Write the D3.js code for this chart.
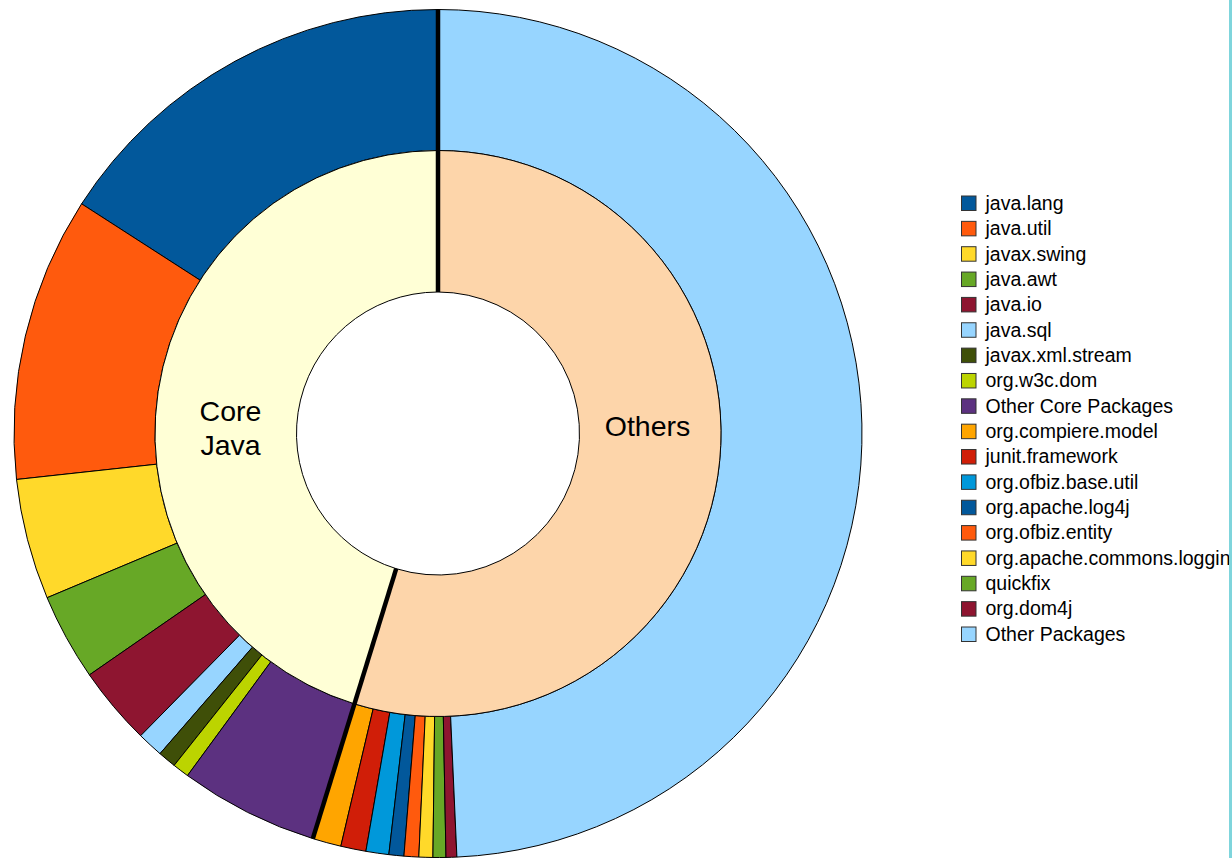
<!DOCTYPE html>
<html>
<head>
<meta charset="utf-8">
<script src="https://cdn.jsdelivr.net/npm/d3@7"></script>
<style>
    html, body { margin: 0; padding: 0; background: #fff; }
    svg { display: block; font-family: "Liberation Sans", Arial, sans-serif; }
</style>
</head>
<body>
<svg id="chart" width="1232" height="858"></svg>
<script>
// Data
const packages = ['java.lang', 'java.util', 'javax.swing', 'java.awt', 'java.io', 'java.sql',
    'javax.xml.stream', 'org.w3c.dom', 'Other Core Packages', 'org.compiere.model',
    'junit.framework', 'org.ofbiz.base.util', 'org.apache.log4j', 'org.ofbiz.entity',
    'org.apache.commons.logging', 'quickfix', 'org.dom4j', 'Other Packages'];
const shares = [15.89, 10.84, 4.6, 3.31, 2.99, 0.99, 0.69, 0.63, 5.29, 1.09,
    0.96, 0.87, 0.57, 0.56, 0.53, 0.49, 0.41, 49.29];
const packageGroup = ['Core Java', 'Core Java', 'Core Java', 'Core Java', 'Core Java', 'Core Java',
    'Core Java', 'Core Java', 'Core Java', 'Others', 'Others', 'Others', 'Others', 'Others',
    'Others', 'Others', 'Others', 'Others'];
const groups = ['Core Java', 'Others'];
const groupLabels = [['Core', 'Java'], ['Others']];

// Styles
const PACKAGE_COLORS = ['#02589b', '#ff5a0d', '#ffd92a', '#67a826', '#8e1530', '#97d5ff',
    '#3f4f08', '#bcd400', '#5c3180', '#ffa500', '#d01e08', '#0098da', '#02589b', '#ff5a0d',
    '#ffd92a', '#67a826', '#8e1530', '#97d5ff'];
const GROUP_COLORS = ['#ffffd6', '#fdd5aa'];

const CX = 438, CY = 433.5;
const R_OUTER = 424, R_MID = 283, R_HOLE = 141.5;

const svg = d3.select('#chart');

const pie = d3.pie().sort(null).startAngle(0).endAngle(-2 * Math.PI);

const groupTotals = groups.map((g) => d3.sum(shares.filter((v, i) => packageGroup[i] === g)));

const outerArc = d3.arc().innerRadius(R_MID).outerRadius(R_OUTER);
const innerArc = d3.arc().innerRadius(R_HOLE).outerRadius(R_MID);

const chart = svg.append('g').attr('transform', `translate(${CX},${CY})`);

// Outer ring
chart.append('g').selectAll('path')
    .data(pie(shares))
    .join('path')
    .attr('d', outerArc)
    .attr('fill', (d, i) => PACKAGE_COLORS[i])
    .attr('stroke', '#000')
    .attr('stroke-width', 1)
    .attr('stroke-linejoin', 'round');

// Inner ring
const innerSlices = pie(groupTotals);
chart.append('g').selectAll('path')
    .data(innerSlices)
    .join('path')
    .attr('d', innerArc)
    .attr('fill', (d, i) => GROUP_COLORS[i])
    .attr('stroke', '#000')
    .attr('stroke-width', 1);

// Thick dividers between the groups
chart.append('g').selectAll('line')
    .data(innerSlices.map((d) => d.startAngle))
    .join('line')
    .attr('x1', (a) => Math.sin(a) * R_HOLE)
    .attr('y1', (a) => -Math.cos(a) * R_HOLE)
    .attr('x2', (a) => Math.sin(a) * R_OUTER)
    .attr('y2', (a) => -Math.cos(a) * R_OUTER)
    .attr('stroke', '#000')
    .attr('stroke-width', 4.5);

// Group labels
const labelPos = [[230.5 - CX, 411 - CY], [647.5 - CX, 426 - CY]];
chart.append('g').selectAll('text')
    .data(groupLabels)
    .join('text')
    .attr('text-anchor', 'middle')
    .attr('font-size', 28.5)
    .attr('fill', '#000')
    .attr('transform', (d, i) => `translate(${labelPos[i][0]},${labelPos[i][1]})`)
    .each(function (lines) {
        const t = d3.select(this);
        lines.forEach((line, k) => {
            t.append('tspan')
                .attr('x', 0)
                .attr('y', (k - (lines.length - 1) / 2) * 34 + (lines.length > 1 ? 17 : 0))
                .attr('dy', '0.35em')
                .text(line);
        });
    });

// Legend
svg.append('clipPath').attr('id', 'legendClip')
    .append('rect').attr('x', 0).attr('y', 0).attr('width', 1229).attr('height', 858);

const legend = svg.append('g').attr('clip-path', 'url(#legendClip)');
const rowY = d3.scalePoint().domain(packages).range([203, 634]);

const rows = legend.selectAll('g')
    .data(packages)
    .join('g')
    .attr('transform', (d) => `translate(961,${rowY(d)})`);

rows.append('rect')
    .attr('x', 0.5)
    .attr('y', -7)
    .attr('width', 14.5)
    .attr('height', 14.5)
    .attr('fill', (d, i) => PACKAGE_COLORS[i])
    .attr('stroke', '#333')
    .attr('stroke-width', 1);

rows.append('text')
    .attr('x', 24.5)
    .attr('y', 0)
    .attr('dy', '0.35em')
    .attr('font-size', 19.5)
    .attr('fill', '#000')
    .text((d) => d);

// Right edge strip
svg.append('rect')
    .attr('x', 1229)
    .attr('y', 0)
    .attr('width', 3)
    .attr('height', 858)
    .attr('fill', '#7fd5dc');
</script>
</body>
</html>
